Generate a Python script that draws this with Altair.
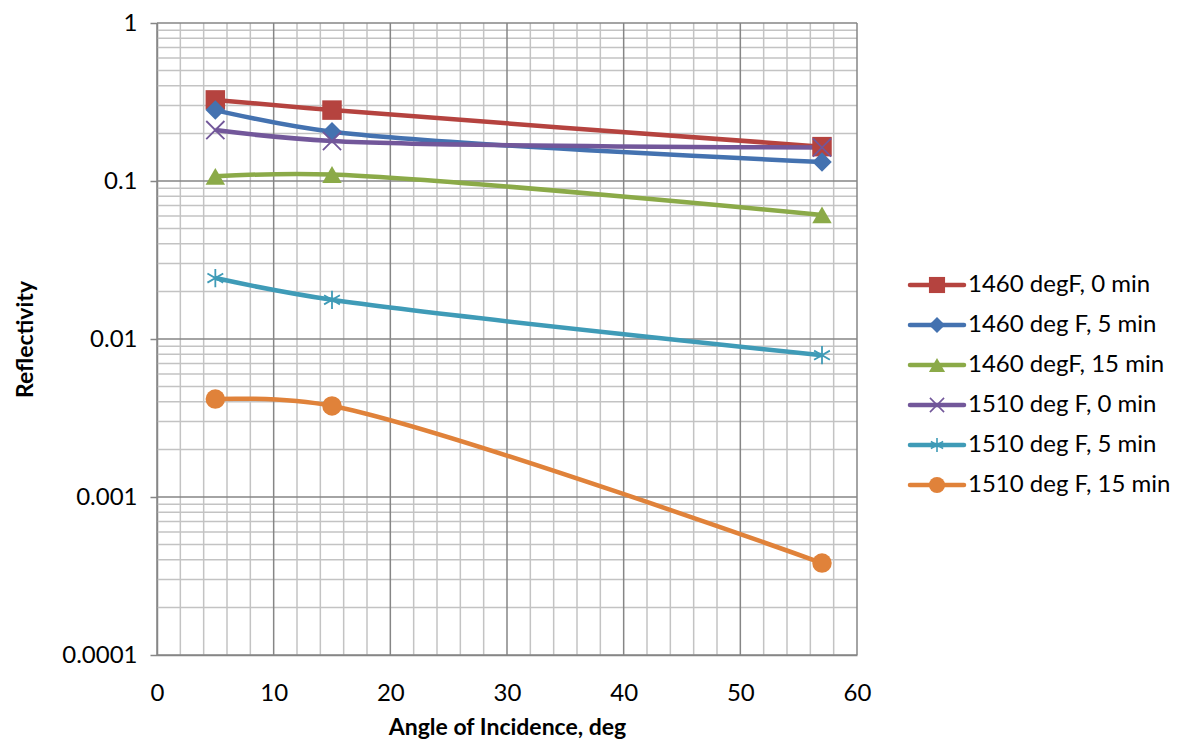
import altair as alt
import pandas as pd

# ---- data ----
angles = [5, 15, 57]
series = ["1460 degF, 0 min", "1460 deg F, 5 min", "1460 degF, 15 min",
          "1510 deg F, 0 min", "1510 deg F, 5 min", "1510 deg F, 15 min"]
r_1460_0 = [0.326, 0.281, 0.165]
r_1460_5 = [0.281, 0.205, 0.132]
r_1460_15 = [0.107, 0.110, 0.061]
r_1510_0 = [0.210, 0.179, 0.163]
r_1510_5 = [0.0243, 0.0177, 0.0079]
r_1510_15 = [0.00417, 0.00377, 0.000382]

colors = ["#B5433F", "#4472B0", "#8BAA48", "#72579A", "#3F9BB7", "#E0823A"]
x_shape = "M-1,-1L1,1M-1,1L1,-1"
star_shape = "M0,-1L0,1M-0.87,-0.5L0.87,0.5M-0.87,0.5L0.87,-0.5"
shapes = ["square", "diamond", "triangle-up", x_shape, star_shape, "circle"]
filled_series = [series[0], series[1], series[2], series[5]]
stroked_series = [series[3], series[4]]

x_ticks = [0, 10, 20, 30, 40, 50, 60]
x_minor = [v for v in range(2, 60, 2) if v % 10 != 0]
y_ticks = [0.0001, 0.001, 0.01, 0.1, 1]
y_minor = [m * d for d in [0.0001, 0.001, 0.01, 0.1] for m in range(2, 10)]

all_vals = [r_1460_0, r_1460_5, r_1460_15, r_1510_0, r_1510_5, r_1510_15]
rows = []
for s, vals in zip(series, all_vals):
    for a, v in zip(angles, vals):
        rows.append({"series": s, "angle": a, "refl": v})
df = pd.DataFrame(rows)

FONT = "Lato"
GRID_MAJOR = "#868686"
GRID_MINOR = "#c3c3c3"

xscale = alt.Scale(domain=[0, 60], nice=False, zero=False)
yscale = alt.Scale(type="log", domain=[0.0001, 1], nice=False)

xaxis = alt.Axis(values=x_ticks, grid=False, tickSize=0, domainColor=GRID_MAJOR,
                 domainWidth=1.5, labelFont=FONT, labelFontSize=24, labelColor="black",
                 labelPadding=26, labelFlush=False, titleFont=FONT, titleFontSize=23,
                 titleFontWeight="bold", titleColor="black", titlePadding=11)
yaxis = alt.Axis(values=y_ticks, grid=False, tickSize=7, tickColor=GRID_MAJOR,
                 tickWidth=1.5, domainColor=GRID_MAJOR, domainWidth=1.5,
                 labelExpr="format(datum.value, '~g')", labelFont=FONT,
                 labelFontSize=24, labelColor="black", labelPadding=13,
                 labelOverlap=False, titleFont=FONT, titleFontSize=23,
                 titleFontWeight="bold", titleColor="black", titlePadding=24)

XT = "Angle of Incidence, deg"
YT = "Reflectivity"

color_scale = alt.Scale(domain=series, range=colors)
shape_scale = alt.Scale(domain=series, range=shapes)

vx_minor = alt.Chart(pd.DataFrame({"v": x_minor})).mark_rule(
    color=GRID_MINOR, strokeWidth=1.5).encode(
    x=alt.X("v:Q", scale=xscale, axis=xaxis, title=XT))
vy_minor = alt.Chart(pd.DataFrame({"v": y_minor})).mark_rule(
    color=GRID_MINOR, strokeWidth=1.5).encode(
    y=alt.Y("v:Q", scale=yscale, axis=yaxis, title=YT))
vx_major = alt.Chart(pd.DataFrame({"v": x_ticks})).mark_rule(
    color=GRID_MAJOR, strokeWidth=1.5).encode(
    x=alt.X("v:Q", scale=xscale, axis=xaxis, title=XT))
vy_major = alt.Chart(pd.DataFrame({"v": y_ticks})).mark_rule(
    color=GRID_MAJOR, strokeWidth=1.5).encode(
    y=alt.Y("v:Q", scale=yscale, axis=yaxis, title=YT))

base = alt.Chart(df).encode(
    x=alt.X("angle:Q", scale=xscale, axis=xaxis, title=XT),
    y=alt.Y("refl:Q", scale=yscale, axis=yaxis, title=YT),
    color=alt.Color("series:N", scale=color_scale, legend=None),
)

lines = base.mark_line(interpolate="catmull-rom", strokeWidth=4.5)
pts_filled = base.transform_filter(
    alt.FieldOneOfPredicate(field="series", oneOf=filled_series)
).mark_point(filled=True, size=380, opacity=1).encode(
    shape=alt.Shape("series:N", scale=shape_scale, legend=None))
pts_stroked = base.transform_filter(
    alt.FieldOneOfPredicate(field="series", oneOf=stroked_series)
).mark_point(filled=False, size=330, strokeWidth=1.8, opacity=1).encode(
    shape=alt.Shape("series:N", scale=shape_scale, legend=None))

main = alt.layer(vx_minor, vy_minor, vx_major, vy_major, lines, pts_filled,
                 pts_stroked).properties(width=700, height=632)

# ---- legend panel ----
leg_df = pd.DataFrame({"series": series})
ly = alt.Y("series:N", scale=alt.Scale(domain=series, range=[242, 482], padding=0),
           axis=None)
lcolor = alt.Color("series:N", scale=color_scale, legend=None)
leg_line = alt.Chart(leg_df).mark_rule(strokeWidth=4.5, strokeCap="round").encode(
    y=ly, x=alt.value(13), x2=alt.value(67), color=lcolor)
leg_filled = alt.Chart(leg_df).transform_filter(
    alt.FieldOneOfPredicate(field="series", oneOf=filled_series)
).mark_point(filled=True, size=260, opacity=1).encode(
    y=ly, x=alt.value(40), color=lcolor,
    shape=alt.Shape("series:N", scale=shape_scale, legend=None))
leg_stroked = alt.Chart(leg_df).transform_filter(
    alt.FieldOneOfPredicate(field="series", oneOf=stroked_series)
).mark_point(filled=False, size=200, strokeWidth=1.6, opacity=1).encode(
    y=ly, x=alt.value(40), color=lcolor,
    shape=alt.Shape("series:N", scale=shape_scale, legend=None))
leg_text = alt.Chart(leg_df).mark_text(
    align="left", baseline="middle", font=FONT, fontSize=24, color="black", dx=0
).encode(y=ly, x=alt.value(71), text="series:N")
legend = alt.layer(leg_line, leg_filled, leg_stroked, leg_text).properties(
    width=250, height=632)

chart = alt.hconcat(main, legend, spacing=40).properties(
    bounds="flush", padding={"left": 6, "top": 3, "right": 0, "bottom": 0}
).configure_view(stroke=None)

chart.save("out.html", embed_options={"renderer": "svg", "actions": False})
